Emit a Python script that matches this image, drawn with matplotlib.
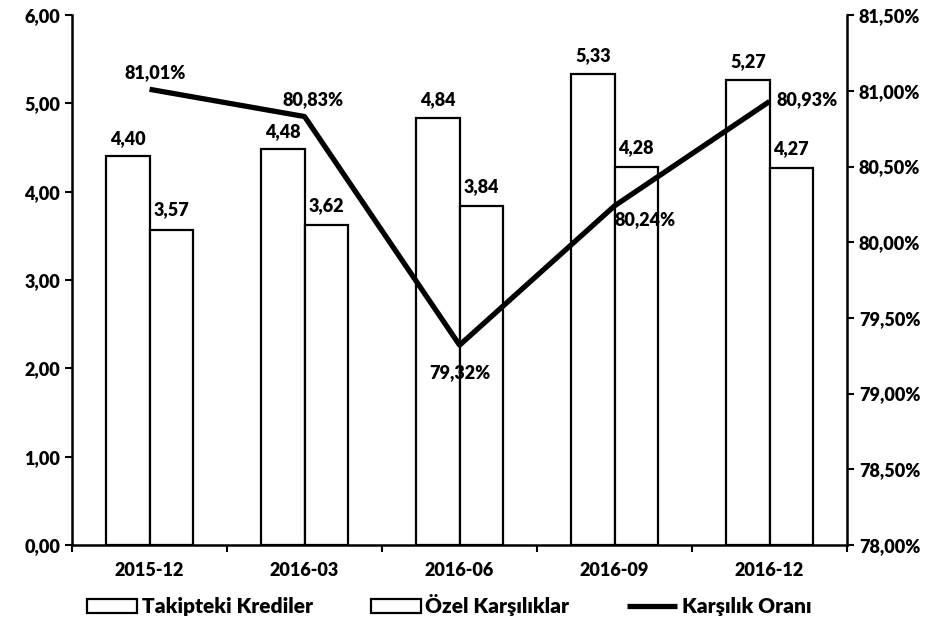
import matplotlib
matplotlib.use("Agg")
import matplotlib.pyplot as plt
import numpy as np
from matplotlib.ticker import FuncFormatter

plt.rcParams["font.family"] = ["Lato", "DejaVu Sans"]
plt.rcParams["font.weight"] = "heavy"

periods = ["2015-12", "2016-03", "2016-06", "2016-09", "2016-12"]
takipteki = [4.40, 4.48, 4.84, 5.33, 5.27]
ozel = [3.57, 3.62, 3.84, 4.28, 4.27]
oran = [81.01, 80.83, 79.32, 80.24, 80.93]

# label offsets (points) for the ratio line
oran_offsets = [(4, 12), (6, 12), (0, -20), (22, -10), (27, 1)]


def comma(v, dec=2):
    return f"{v:.{dec}f}".replace(".", ",")


fig = plt.figure(figsize=(9.36, 6.3), dpi=100)
ax = fig.add_axes([0.077, 0.135, 0.828, 0.841])
ax2 = ax.twinx()

FS = 13
x = np.arange(len(periods))
w = 0.28
b1 = ax.bar(x - w / 2, takipteki, w, color="white", edgecolor="black", linewidth=1.6)
b2 = ax.bar(x + w / 2, ozel, w, color="white", edgecolor="black", linewidth=1.6)

for xi, v in zip(x, takipteki):
    ax.annotate(comma(v), (xi - w / 2, v), xytext=(0, 7), textcoords="offset points",
                ha="center", va="bottom", fontsize=FS, fontweight="heavy")
for xi, v in zip(x, ozel):
    ax.annotate(comma(v), (xi + w / 2, v), xytext=(0, 8), textcoords="offset points",
                ha="center", va="bottom", fontsize=FS, fontweight="heavy")

ln, = ax2.plot(x, oran, color="black", linewidth=3.8, solid_capstyle="butt")
for xi, v, off in zip(x, oran, oran_offsets):
    ax2.annotate(comma(v) + "%", (xi, v), xytext=off, textcoords="offset points",
                 ha="center", va="center", fontsize=FS, fontweight="heavy")

ax.set_xlim(-0.5, len(periods) - 0.5)
ax.set_ylim(0, 6)
ax.set_yticks(np.arange(0, 6.01, 1))
ax.yaxis.set_major_formatter(FuncFormatter(lambda v, p: comma(v)))
ax2.set_ylim(78, 81.5)
ax2.set_yticks(np.arange(78, 81.51, 0.5))
ax2.yaxis.set_major_formatter(FuncFormatter(lambda v, p: comma(v) + "%"))

ax.set_xticks(x)
ax.set_xticklabels(periods)
ax.set_xticks(np.arange(-0.5, len(periods)), minor=True)
ax.tick_params(axis="x", which="major", length=0, pad=12, labelsize=FS)
ax.tick_params(axis="x", which="minor", length=5, width=1.5, direction="out")
ax.tick_params(axis="y", length=5, width=1.5, labelsize=FS)
ax2.tick_params(axis="y", length=5, width=1.5, labelsize=FS)

for a in (ax, ax2):
    a.spines["top"].set_visible(False)
    for s in ("left", "right", "bottom"):
        a.spines[s].set_linewidth(1.8)
ax.spines["right"].set_visible(False)
ax2.spines["left"].set_visible(False)
ax2.spines["bottom"].set_visible(False)

fig.legend([b1, b2, ln], ["Takipteki Krediler", "Özel Karşılıklar", "Karşılık Oranı"],
           loc="lower center", bbox_to_anchor=(0.48, -0.008), ncol=3, frameon=False,
           handlelength=2.4, handletextpad=0.2, columnspacing=2.8,
           prop={"weight": "heavy", "size": 15})

fig.savefig("out.png", dpi=100)
